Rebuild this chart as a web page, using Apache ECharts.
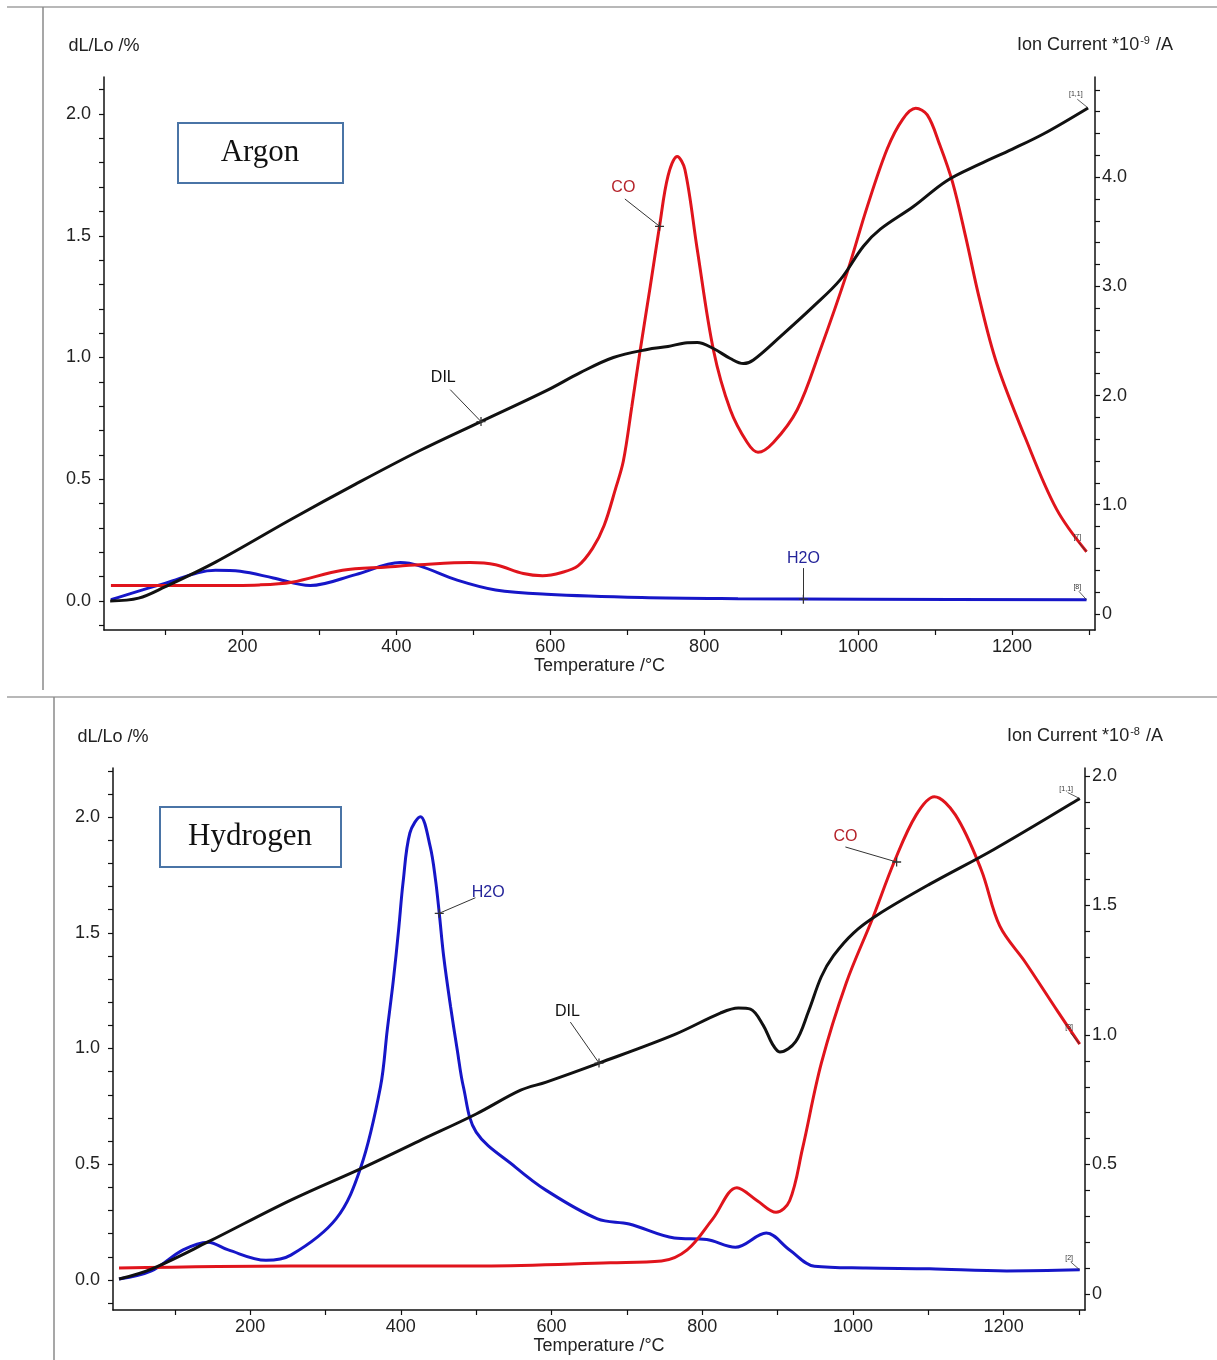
<!DOCTYPE html>
<html>
<head>
<meta charset="utf-8">
<script src="https://cdn.jsdelivr.net/npm/echarts@6/dist/echarts.min.js"></script>
<style>
  html, body { margin: 0; padding: 0; background: #fff; }
  #chart { width: 1217px; height: 1360px; }
</style>
</head>
<body>
<div id="chart"></div>
<script>
// ---- axes ----
const tempTicks = [100, 200, 300, 400, 500, 600, 700, 800, 900, 1000, 1100, 1200, 1300];
const tempLabels = [200, 400, 600, 800, 1000, 1200];

const dilTicksAr = [-0.1, 0, 0.1, 0.2, 0.3, 0.4, 0.5, 0.6, 0.7, 0.8, 0.9, 1.0, 1.1, 1.2, 1.3, 1.4, 1.5, 1.6, 1.7, 1.8, 1.9, 2.0, 2.1];
const dilTicksH2 = [-0.1, 0, 0.1, 0.2, 0.3, 0.4, 0.5, 0.6, 0.7, 0.8, 0.9, 1.0, 1.1, 1.2, 1.3, 1.4, 1.5, 1.6, 1.7, 1.8, 1.9, 2.0, 2.1, 2.2];
const dilLabels = [0, 0.5, 1.0, 1.5, 2.0];

const ionTicksAr = [0, 0.2, 0.4, 0.6, 0.8, 1.0, 1.2, 1.4, 1.6, 1.8, 2.0, 2.2, 2.4, 2.6, 2.8, 3.0, 3.2, 3.4, 3.6, 3.8, 4.0, 4.2, 4.4, 4.6, 4.8];
const ionLabelsAr = [0, 1.0, 2.0, 3.0, 4.0];
const ionTicksH2 = [0, 0.1, 0.2, 0.3, 0.4, 0.5, 0.6, 0.7, 0.8, 0.9, 1.0, 1.1, 1.2, 1.3, 1.4, 1.5, 1.6, 1.7, 1.8, 1.9, 2.0];
const ionLabelsH2 = [0, 0.5, 1.0, 1.5, 2.0];

// ---- Argon: [temperature °C, value] ----
const argonDIL = [
  [28, 0.0], [65, 0.012], [99, 0.058], [165, 0.16], [264, 0.337], [347, 0.48],
  [430, 0.617], [510, 0.737], [595, 0.864], [639, 0.938], [682, 1.0], [726, 1.033],
  [753, 1.045], [775, 1.06], [791, 1.062], [812, 1.037], [834, 0.996], [851, 0.975],
  [864, 0.99], [899, 1.086], [942, 1.21], [977, 1.32], [1007, 1.457], [1029, 1.527],
  [1072, 1.62], [1115, 1.725], [1158, 1.794], [1200, 1.855], [1242, 1.92], [1299, 2.025]
];
const argonCO = [
  [29, 0.26], [150, 0.26], [222, 0.266], [264, 0.29], [330, 0.40], [388, 0.43],
  [430, 0.45], [496, 0.47], [529, 0.45], [565, 0.37], [590, 0.35], [615, 0.38],
  [636, 0.44], [655, 0.6], [670, 0.81], [685, 1.15], [695, 1.4], [706, 1.9],
  [717, 2.42], [730, 3.0], [742, 3.55], [753, 4.01], [765, 4.19], [775, 4.07],
  [791, 3.34], [812, 2.42], [834, 1.87], [856, 1.57], [870, 1.48], [890, 1.57],
  [921, 1.87], [951, 2.42], [986, 3.13], [1012, 3.73], [1038, 4.26], [1058, 4.53],
  [1075, 4.63], [1090, 4.57], [1106, 4.3], [1123, 3.95], [1140, 3.45], [1158, 2.88],
  [1180, 2.3], [1217, 1.62], [1258, 0.96], [1297, 0.57]
];
const argonH2O = [
  [29, 0.13], [99, 0.28], [165, 0.40], [197, 0.39], [240, 0.33], [288, 0.26],
  [347, 0.36], [405, 0.47], [430, 0.44], [479, 0.31], [529, 0.22], [595, 0.18],
  [719, 0.15], [844, 0.14], [1009, 0.135], [1297, 0.13]
];

// ---- Hydrogen: [temperature °C, value] ----
const hydrogenDIL = [
  [26, 0.004], [69, 0.047], [144, 0.164], [254, 0.345], [353, 0.49], [424, 0.60],
  [500, 0.717], [559, 0.82], [593, 0.855], [663, 0.937], [763, 1.06], [824, 1.153],
  [848, 1.175], [864, 1.17], [881, 1.10], [893, 1.02], [903, 0.985], [924, 1.03],
  [941, 1.16], [958, 1.31], [974, 1.40], [1001, 1.50], [1034, 1.58], [1102, 1.71],
  [1187, 1.86], [1301, 2.08]
];
const hydrogenH2O = [
  [26, 0.058], [69, 0.089], [111, 0.17], [144, 0.20], [171, 0.17], [221, 0.13],
  [254, 0.15], [314, 0.29], [347, 0.49], [373, 0.80], [382, 1.02], [390, 1.21],
  [397, 1.405], [403, 1.59], [412, 1.78], [426, 1.843], [439, 1.727], [446, 1.60],
  [451, 1.47], [457, 1.30], [466, 1.11], [475, 0.94], [483, 0.80], [500, 0.625],
  [552, 0.49], [593, 0.40], [661, 0.29], [703, 0.27], [763, 0.216], [806, 0.21],
  [844, 0.18], [885, 0.235], [916, 0.17], [949, 0.107], [1017, 0.10], [1102, 0.097],
  [1204, 0.089], [1301, 0.093]
];
const hydrogenCO = [
  [26, 0.10], [254, 0.108], [509, 0.108], [678, 0.12], [746, 0.127], [780, 0.17],
  [814, 0.29], [846, 0.41], [873, 0.36], [898, 0.315], [916, 0.36], [933, 0.56],
  [958, 0.89], [991, 1.20], [1026, 1.45], [1055, 1.67], [1084, 1.85], [1108, 1.92],
  [1136, 1.85], [1170, 1.64], [1195, 1.42], [1229, 1.28], [1272, 1.09], [1301, 0.965]
];

const FONT = '"Liberation Sans", Arial, sans-serif';
const TXT = '#222';
const C_DIL = '#111111';
const C_CO = '#e0141c';
const C_H2O = '#1616c8';
const CROSS = 'path://M4.3,0H5.7V4.3H10V5.7H5.7V10H4.3V5.7H0V4.3H4.3Z';

const fmtInt = v => String(v);
const fmtOne = v => v.toFixed(1);
const fmtIon = v => (v === 0 ? '0' : v.toFixed(1));

function xAxisFor(grid, min, max, gap) {
  return {
    type: 'value', gridIndex: grid, min: min, max: max,
    axisLine: { onZero: false, lineStyle: { color: '#111', width: 1.5 } },
    axisTick: { customValues: tempTicks, length: 5, lineStyle: { color: '#111', width: 1.2 } },
    axisLabel: { customValues: tempLabels, fontSize: 18, color: TXT, fontFamily: FONT, margin: 8, formatter: fmtInt },
    splitLine: { show: false },
    name: 'Temperature /°C', nameLocation: 'middle', nameGap: gap,
    nameTextStyle: { fontSize: 18, color: TXT, fontFamily: FONT }
  };
}

function yAxisFor(grid, pos, min, max, ticks, labels, name, fmt, margin) {
  return {
    type: 'value', gridIndex: grid, position: pos, min: min, max: max,
    axisLine: { show: true, onZero: false, lineStyle: { color: '#111', width: 1.5 } },
    axisTick: { show: true, customValues: ticks, length: 5, lineStyle: { color: '#111', width: 1.2 } },
    axisLabel: { customValues: labels, fontSize: 18, color: TXT, fontFamily: FONT, margin: margin, formatter: fmt },
    splitLine: { show: false },
    name: name, nameLocation: 'end', nameGap: 22,
    nameTextStyle: {
      fontSize: 18, color: TXT, fontFamily: FONT,
      rich: { sup: { fontSize: 11, color: TXT, fontFamily: FONT, padding: [0, 1, 9, 1] } }
    }
  };
}

// leader-line annotation: text at `at`, line from `from` to the point on the curve `to`
function note(text, color, at, from, to) {
  return {
    markPoint: {
      silent: true, animation: false, symbol: 'rect', symbolSize: 1,
      itemStyle: { color: 'rgba(0,0,0,0)' },
      label: { show: true, position: 'inside', formatter: text, color: color, fontSize: 16, fontFamily: FONT },
      data: [{ coord: at }]
    },
    markLine: {
      silent: true, animation: false, symbol: ['none', CROSS], symbolSize: 9, symbolRotate: 0,
      label: { show: false },
      lineStyle: { color: '#333', width: 1, type: 'solid' },
      itemStyle: { color: '#111' },
      emphasis: { disabled: true },
      data: [[{ coord: from }, { coord: to }]]
    }
  };
}

// small channel tag at the end of a curve, with a short tick line down to it
function endTag(text, at, tip) {
  return {
    markPoint: {
      silent: true, animation: false, symbol: 'rect', symbolSize: 1,
      itemStyle: { color: 'rgba(0,0,0,0)' },
      label: { show: true, position: 'inside', formatter: text, color: '#333', fontSize: 7, fontFamily: FONT },
      data: [{ coord: at }]
    },
    markLine: {
      silent: true, animation: false, symbol: 'none',
      label: { show: false },
      lineStyle: { color: '#333', width: 0.8, type: 'solid' },
      emphasis: { disabled: true },
      data: [[{ coord: [at[0] + 2, at[1] - (at[1] - tip[1]) * 0.35] }, { coord: tip }]]
    }
  };
}

function curve(name, data, color, xi, yi, extra) {
  return Object.assign({
    type: 'line', name: name, xAxisIndex: xi, yAxisIndex: yi, data: data,
    showSymbol: false, smooth: 0.35, animation: false, silent: true,
    lineStyle: { color: color, width: 3 }, itemStyle: { color: color }, z: 3
  }, extra || {});
}

const option = {
  backgroundColor: '#fff',
  animation: false,
  grid: [
    { left: 104, top: 77, width: 991, height: 553, containLabel: false, outerBoundsMode: 'none' },
    { left: 113, top: 768, width: 972, height: 542, containLabel: false, outerBoundsMode: 'none' }
  ],
  xAxis: [
    xAxisFor(0, 20, 1308, 27),
    xAxisFor(1, 18, 1308, 24)
  ],
  yAxis: [
    yAxisFor(0, 'left', -0.119, 2.152, dilTicksAr, dilLabels, 'dL/Lo /%', fmtOne, 13),
    yAxisFor(0, 'right', -0.147, 4.917, ionTicksAr, ionLabelsAr, 'Ion Current *10{sup|-9} /A', fmtIon, 7),
    yAxisFor(1, 'left', -0.13, 2.212, dilTicksH2, dilLabels, 'dL/Lo /%', fmtOne, 13),
    yAxisFor(1, 'right', -0.062, 2.031, ionTicksH2, ionLabelsH2, 'Ion Current *10{sup|-8} /A', fmtIon, 7)
  ],
  series: [
    // Argon
    curve('H2O', argonH2O, C_H2O, 0, 1, note('H2O', '#24249a', [929, 0.51], [929, 0.42], [929, 0.135])),
    curve('H2O tag', [], C_H2O, 0, 1, endTag('[8]', [1285, 0.25], [1297, 0.13])),
    curve('CO', argonCO, C_CO, 0, 1, note('CO', '#b5232a', [695, 3.9], [697, 3.8], [742, 3.55])),
    curve('CO tag', [], C_CO, 0, 1, endTag('[7]', [1285, 0.70], [1297, 0.57])),
    curve('DIL', argonDIL, C_DIL, 0, 0, note('DIL', '#111', [461, 0.918], [470, 0.868], [510, 0.737])),
    curve('DIL tag', [], C_DIL, 0, 0, endTag('[1,1]', [1283, 2.08], [1299, 2.025])),

    // Hydrogen
    curve('H2O', hydrogenH2O, C_H2O, 1, 3, note('H2O', '#24249a', [516, 1.548], [499, 1.53], [451, 1.47])),
    curve('H2O tag', [], C_H2O, 1, 3, endTag('[2]', [1287, 0.14], [1301, 0.093])),
    curve('CO', hydrogenCO, C_CO, 1, 3, note('CO', '#b5232a', [990, 1.765], [990, 1.726], [1058, 1.668])),
    curve('CO tag', [], C_CO, 1, 3, endTag('[3]', [1287, 1.03], [1301, 0.965])),
    curve('DIL', hydrogenDIL, C_DIL, 1, 2, note('DIL', '#111', [621, 1.158], [625, 1.114], [663, 0.937])),
    curve('DIL tag', [], C_DIL, 1, 2, endTag('[1,1]', [1283, 2.12], [1301, 2.08]))
  ],
  graphic: [
    // table rules around the two panels
    { type: 'line', silent: true, shape: { x1: 7, y1: 7, x2: 1217, y2: 7 }, style: { stroke: '#a0a0a0', lineWidth: 1.5 } },
    { type: 'line', silent: true, shape: { x1: 43, y1: 7, x2: 43, y2: 690 }, style: { stroke: '#8a8a8a', lineWidth: 1.5 } },
    { type: 'line', silent: true, shape: { x1: 7, y1: 697, x2: 1217, y2: 697 }, style: { stroke: '#a0a0a0', lineWidth: 1.5 } },
    { type: 'line', silent: true, shape: { x1: 54, y1: 697, x2: 54, y2: 1360 }, style: { stroke: '#8a8a8a', lineWidth: 1.5 } },
    // atmosphere captions
    { type: 'rect', silent: true, shape: { x: 178, y: 123, width: 165, height: 60 }, style: { fill: '#fff', stroke: '#4a74a6', lineWidth: 2 } },
    { type: 'text', silent: true, x: 260, y: 153, style: { text: 'Argon', font: '31px "Liberation Serif", "Times New Roman", serif', fill: '#111', textAlign: 'center', textVerticalAlign: 'middle' } },
    { type: 'rect', silent: true, shape: { x: 160, y: 807, width: 181, height: 60 }, style: { fill: '#fff', stroke: '#4a74a6', lineWidth: 2 } },
    { type: 'text', silent: true, x: 250, y: 837, style: { text: 'Hydrogen', font: '31px "Liberation Serif", "Times New Roman", serif', fill: '#111', textAlign: 'center', textVerticalAlign: 'middle' } }
  ]
};

const chart = echarts.init(document.getElementById('chart'), null, { renderer: 'canvas' });
chart.setOption(option);
</script>
</body>
</html>
